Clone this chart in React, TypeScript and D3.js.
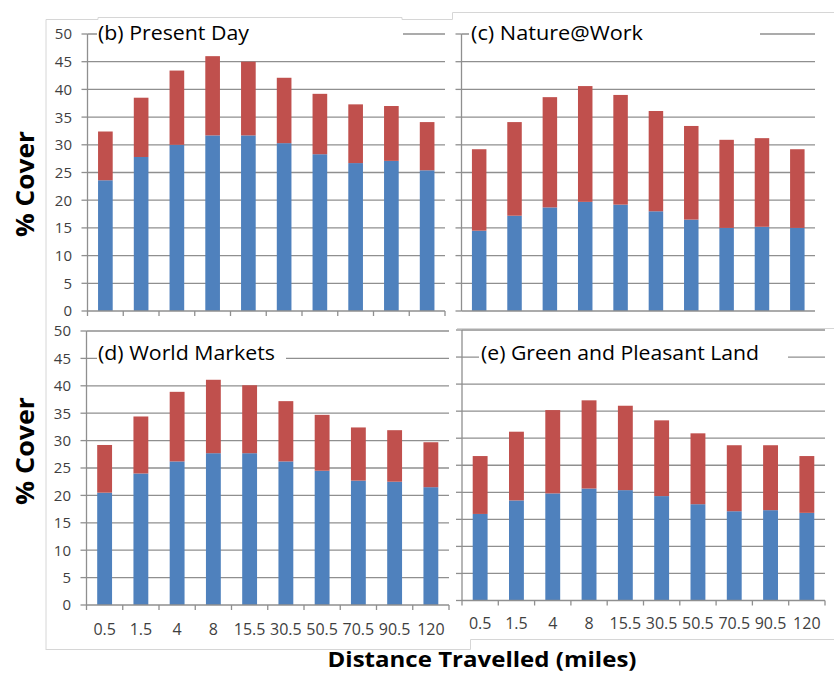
import React from "react";
import * as d3 from "d3";

// ---------- data ----------
const categories = ["0.5", "1.5", "4", "8", "15.5", "30.5", "50.5", "70.5", "90.5", "120"];
const yTicks = [0, 5, 10, 15, 20, 25, 30, 35, 40, 45, 50];

// (b) Present Day
const presentDayLower = [23.6, 27.8, 30.0, 31.7, 31.7, 30.3, 28.3, 26.7, 27.1, 25.4];
const presentDayUpper = [8.8, 10.7, 13.4, 14.3, 13.3, 11.8, 10.9, 10.6, 9.9, 8.7];
// (c) Nature@Work
const natureLower = [14.5, 17.2, 18.7, 19.7, 19.2, 18.0, 16.5, 15.0, 15.2, 15.0];
const natureUpper = [14.7, 16.9, 19.9, 20.9, 19.8, 18.1, 16.9, 15.9, 16.0, 14.2];
// (d) World Markets
const worldLower = [20.5, 24.0, 26.2, 27.7, 27.7, 26.2, 24.5, 22.7, 22.5, 21.5];
const worldUpper = [8.7, 10.4, 12.7, 13.4, 12.4, 11.0, 10.2, 9.7, 9.4, 8.2];
// (e) Green and Pleasant Land
const greenLower = [16.0, 18.5, 19.8, 20.7, 20.4, 19.3, 17.8, 16.5, 16.7, 16.2];
const greenUpper = [10.7, 12.7, 15.4, 16.3, 15.6, 14.0, 13.1, 12.2, 12.0, 10.5];

const BLUE = "#4F81BD";
const RED = "#C0504D";
const GRID = "#8f8f8f";
const FRAME = "#d6d6d6";
const TICKTXT = "#3f3f3f";
const FONT = "'Open Sans', 'Liberation Sans', sans-serif";

type PanelProps = {
  x0: number; x1: number; yTop: number; yBottom: number;
  lower: number[]; upper: number[];
  title: string; titleX: number; titleY: number; titleW: number;
  box: [number, number, number, number];
  showYLabels: boolean; yLabelX?: number;
  showXLabels: boolean; xLabelY?: number;
  showXTicks: boolean;
};

function Panel(p: PanelProps) {
  const x = d3.scaleBand<string>().domain(categories).range([p.x0, p.x1])
    .paddingInner(0.59).paddingOuter(0.295);
  const y = d3.scaleLinear().domain([0, 50]).range([p.yBottom, p.yTop]);
  const rows = categories.map((c, i) => ({ cat: c, lower: p.lower[i], upper: p.upper[i] }));
  const stacked = d3.stack<any>().keys(["lower", "upper"])(rows);
  const colors = [BLUE, RED];
  const step = (p.x1 - p.x0) / categories.length;
  const boundaries = d3.range(categories.length + 1).map((i) => p.x0 + i * step);
  return (
    <g>
      {yTicks.filter((t) => t > 0).map((t) => (
        <line key={"g" + t} x1={p.x0} x2={p.x1} y1={y(t)} y2={y(t)} stroke={GRID} strokeWidth={1.3} />
      ))}
      <rect x={p.box[0]} y={p.box[1]} width={p.box[2] - p.box[0]} height={p.box[3] - p.box[1]} fill="#fff" />
      {stacked.map((s, si) => (
        <g key={"s" + si} fill={colors[si]}>
          {s.map((d, i) => (
            <rect key={i} x={x(categories[i])} width={x.bandwidth()}
              y={y(d[1])} height={y(d[0]) - y(d[1])} />
          ))}
        </g>
      ))}
      {/* y axis */}
      <line x1={p.x0} x2={p.x0} y1={p.yTop} y2={p.yBottom} stroke={GRID} strokeWidth={1.3} />
      {yTicks.map((t) => (
        <line key={"yt" + t} x1={p.x0 - 6} x2={p.x0} y1={y(t)} y2={y(t)} stroke={GRID} strokeWidth={1.3} />
      ))}
      {/* x axis */}
      <line x1={p.x0} x2={p.x1} y1={p.yBottom} y2={p.yBottom} stroke={GRID} strokeWidth={1.3} />
      {p.showXTicks && boundaries.map((bx, i) => (
        <line key={"xt" + i} x1={bx} x2={bx} y1={p.yBottom} y2={p.yBottom + 5} stroke={GRID} strokeWidth={1.3} />
      ))}
      {p.showYLabels && yTicks.map((t) => (
        <text key={"yl" + t} x={p.yLabelX} y={y(t)} dy="0.36em" textAnchor="end"
          fontFamily={FONT} fontSize={15} fill={TICKTXT}>{t}</text>
      ))}
      {p.showXLabels && categories.map((c) => (
        <text key={"xl" + c} x={(x(c) as number) + x.bandwidth() / 2} y={p.xLabelY} textAnchor="middle"
          fontFamily={FONT} fontSize={16} fill={TICKTXT}>{c}</text>
      ))}
      <text x={p.titleX} y={p.titleY} fontFamily={FONT} fontSize={19.5} fill="#000"
        textLength={p.titleW} lengthAdjust="spacingAndGlyphs">{p.title}</text>
    </g>
  );
}

export default function App() {
  return (
    <div style={{ position: "absolute", left: 0, top: 0, width: 834, height: 673, background: "#fff" }}>
      <svg width={834} height={673} viewBox="0 0 834 673" style={{ display: "block" }}>
        <rect x={0} y={0} width={834} height={673} fill="#fff" />
        {/* frames */}
        <g stroke={FRAME} strokeWidth={1} fill="none">
          <polyline points="46,650 46,19.5 98,19.5 98,17.5 402,17.5 402,19.5 452.5,19.5 452.5,12.5 834,12.5" />
          <line x1={457} x2={834} y1={328.5} y2={328.5} />
          <polyline points="46,649.5 470.5,649.5 470.5,639.5 834,639.5" />
        </g>
        <Panel x0={87.5} x1={445} yTop={34} yBottom={311} lower={presentDayLower} upper={presentDayUpper}
          title="(b) Present Day" titleX={98} titleY={40} titleW={151} box={[97, 20, 403, 50]}
          showYLabels={true} yLabelX={72} showXLabels={false} showXTicks={true} />
        <Panel x0={461.5} x1={815} yTop={34} yBottom={311} lower={natureLower} upper={natureUpper}
          title="(c) Nature@Work" titleX={471} titleY={40} titleW={172} box={[469, 20, 760, 50]}
          showYLabels={false} showXLabels={false} showXTicks={false} />
        <Panel x0={86.5} x1={449} yTop={331} yBottom={605} lower={worldLower} upper={worldUpper}
          title="(d) World Markets" titleX={98} titleY={360} titleW={177} box={[97, 340, 286, 372]}
          showYLabels={true} yLabelX={71} showXLabels={true} xLabelY={635} showXTicks={true} />
        <Panel x0={462} x1={825} yTop={330} yBottom={600.5} lower={greenLower} upper={greenUpper}
          title="(e) Green and Pleasant Land" titleX={481} titleY={360} titleW={278} box={[479, 340, 788, 372]}
          showYLabels={false} showXLabels={true} xLabelY={629} showXTicks={true} />
        {/* axis titles */}
        <text transform="translate(34,184) rotate(-90)" textAnchor="middle" fontFamily={FONT}
          fontWeight="bold" fontSize={25} textLength={106} lengthAdjust="spacingAndGlyphs">% Cover</text>
        <text transform="translate(34,451) rotate(-90)" textAnchor="middle" fontFamily={FONT}
          fontWeight="bold" fontSize={25} textLength={108} lengthAdjust="spacingAndGlyphs">% Cover</text>
        <text x={482} y={667} textAnchor="middle" fontFamily={FONT} fontWeight="bold" fontSize={21}
          textLength={309} lengthAdjust="spacingAndGlyphs">Distance Travelled (miles)</text>
      </svg>
    </div>
  );
}
